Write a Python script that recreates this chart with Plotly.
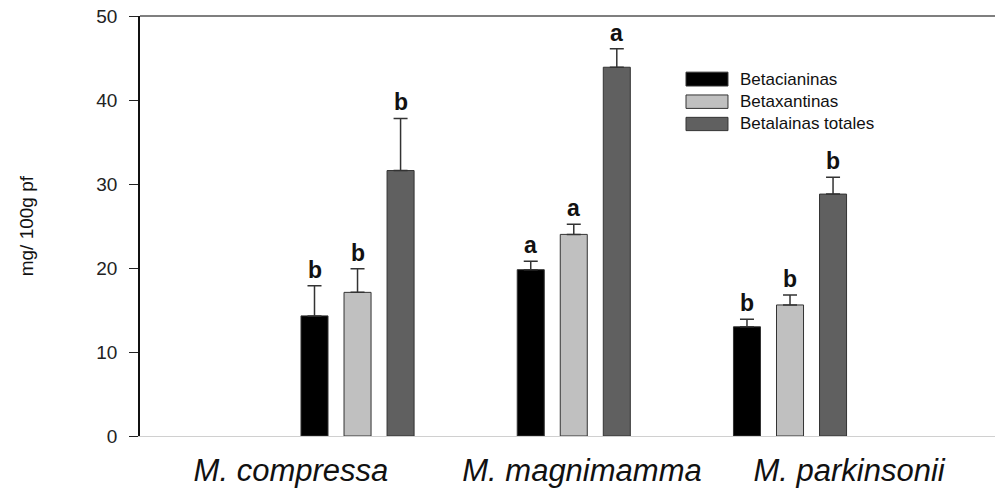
import plotly.graph_objects as go

# Betalain content by species (mg / 100 g fresh weight)
species = ["M. compressa", "M. magnimamma", "M. parkinsonii"]
group_pos = [1, 2, 3]

series_names = ["Betacianinas", "Betaxantinas", "Betalainas totales"]
betacianinas = [14.3, 19.8, 13.0]
betaxantinas = [17.1, 24.0, 15.6]
betalainas_totales = [31.6, 43.9, 28.8]

err_betacianinas = [3.6, 1.0, 0.9]
err_betaxantinas = [2.8, 1.2, 1.2]
err_betalainas = [6.2, 2.2, 2.0]

letters_betacianinas = ["b", "a", "b"]
letters_betaxantinas = ["b", "a", "b"]
letters_betalainas = ["b", "a", "b"]

y_ticks = [0, 10, 20, 30, 40, 50]
label_pos = [0.692, 2.038, 3.273]

fills = ["#000000", "#c0c0c0", "#606060"]
outline = "#333333"

values = [betacianinas, betaxantinas, betalainas_totales]
errors = [err_betacianinas, err_betaxantinas, err_betalainas]
letters = [letters_betacianinas, letters_betaxantinas, letters_betalainas]

fig = go.Figure()
for name, vals, errs, col in zip(series_names, values, errors, fills):
    fig.add_trace(go.Bar(
        x=group_pos, y=vals, name=name,
        marker=dict(color=col, line=dict(color=outline, width=1)),
        error_y=dict(type="data", array=errs, symmetric=False,
                     arrayminus=[0] * len(errs),
                     color="#333333", thickness=1.5, width=7),
        showlegend=False,
    ))

# significance letters above the error bars
slot = 0.199
annotations = []
for k, (vals, errs, lets) in enumerate(zip(values, errors, letters)):
    for g, v, e, t in zip(group_pos, vals, errs, lets):
        annotations.append(dict(
            x=g + (k - 1) * slot, y=v + e, xref="x", yref="y",
            text="<b>" + t + "</b>", showarrow=False, yanchor="bottom", yshift=1,
            font=dict(family="Liberation Sans, Arial", size=23, color="#111111"),
        ))

# y-axis title
annotations.append(dict(
    x=-0.133, y=0.5, xref="paper", yref="paper", text="mg/ 100g pf",
    textangle=-90, showarrow=False, xanchor="center", yanchor="middle",
    font=dict(family="Liberation Sans, Arial", size=19, color="#111111"),
))

# legend drawn as swatches + labels
shapes = []
legend_rows = [(0.8333, 0.8663), (0.7800, 0.8120), (0.7271, 0.7587)]
for (y0, y1), name, col in zip(legend_rows, series_names, fills):
    shapes.append(dict(type="rect", xref="paper", yref="paper",
                       x0=0.6386, x1=0.6877, y0=y0, y1=y1,
                       fillcolor=col, line=dict(color=outline, width=1)))
    annotations.append(dict(
        x=0.6994, y=(y0 + y1) / 2, xref="paper", yref="paper", text=name,
        showarrow=False, xanchor="left", yanchor="middle",
        font=dict(family="Liberation Sans, Arial", size=17, color="#111111"),
    ))

# top frame line
shapes.append(dict(type="line", xref="paper", yref="paper",
                   x0=0, x1=1, y0=1, y1=1,
                   line=dict(color="#555555", width=1.5)))

fig.update_layout(
    width=995, height=488,
    margin=dict(l=140, r=0, t=16, b=48),
    paper_bgcolor="white", plot_bgcolor="white",
    barmode="group", bargap=0.403, bargroupgap=0.372,
    annotations=annotations, shapes=shapes,
    xaxis=dict(
        range=[-0.006, 3.948], showgrid=False, zeroline=False,
        showline=True, linecolor="#d0d0d0", linewidth=1,
        tickmode="array", tickvals=label_pos, ticktext=species,
        ticks="", ticklabelstandoff=7,
        tickfont=dict(family="Liberation Sans, Arial", size=31, color="#111111"),
    ),
    yaxis=dict(
        range=[0, 50], showgrid=False, zeroline=False,
        showline=True, linecolor="#111111", linewidth=1.5,
        tickmode="array", tickvals=y_ticks,
        ticks="outside", ticklen=9, tickcolor="#222222", tickwidth=1,
        ticklabelstandoff=8,
        tickfont=dict(family="Liberation Sans, Arial", size=19, color="#222222"),
    ),
    font=dict(family="Liberation Sans, Arial"),
)
fig.update_xaxes(tickfont_style="italic")

fig.write_html("out.html")
